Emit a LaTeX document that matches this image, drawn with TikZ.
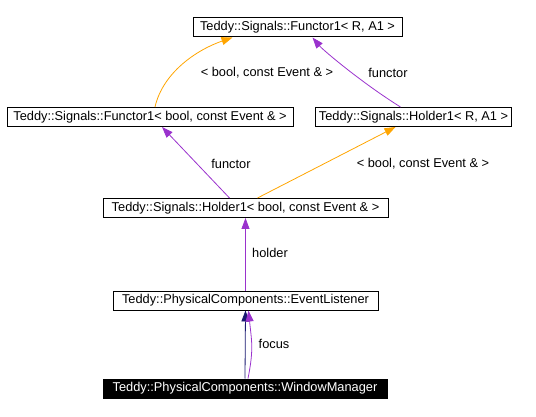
\documentclass[tikz,border=0pt]{standalone}
\usepackage{fontspec}
\setmainfont{Liberation Sans}
\usetikzlibrary{arrows.meta}
\definecolor{usecol}{RGB}{154,50,205}
\definecolor{tplcol}{RGB}{255,165,0}
\definecolor{inhcol}{RGB}{25,25,112}

\begin{document}
\begin{tikzpicture}[x=1pt,y=-1pt,
		cls/.style={rectangle, draw, line width=1pt, inner xsep=3pt, inner ysep=0pt, minimum height=19pt, font=\fontsize{12.8}{14}\selectfont},
		cur/.style={cls, fill=black, text=white},
		uses/.style={draw=usecol, line width=0.8pt, -{Triangle[length=11pt,width=8pt]}},
		tpl/.style={draw=tplcol, line width=0.8pt, -{Triangle[length=11pt,width=8pt]}},
		inh/.style={draw=inhcol, line width=0.8pt, -{Triangle[length=11pt,width=8pt]}},
		elab/.style={font=\fontsize{12.8}{14}\selectfont, inner sep=1pt}
	]
	\useasboundingbox (0,0) rectangle (536,417);

	\node[cls,minimum width=209pt] at (297.5,27.5) (fr) {Teddy::Signals::Functor1< R, A1 >};
	\node[cls,minimum width=286pt] at (150,117) (fb) {Teddy::Signals::Functor1< bool, const Event \& >};
	\node[cls,minimum width=195pt] at (413.5,117) (hr) {Teddy::Signals::Holder1< R, A1 >};
	\node[cls,minimum width=285pt] at (245.5,208) (hb) {Teddy::Signals::Holder1< bool, const Event \& >};
	\node[cls,minimum width=265pt] at (245.5,300.5) (el) {Teddy::PhysicalComponents::EventListener};
	\node[cur,minimum width=284pt] at (245,388.5) (wm) {Teddy::PhysicalComponents::WindowManager};

	% top row
	\draw[tpl] ([xshift=5pt]fb.north) .. controls +(8,-35) and +(-35,12) .. ([xshift=-65pt]fr.south);
	\node[elab] at (267,73) (tl1) {< bool, const Event \& >};
	\draw[uses] ([xshift=-13pt]hr.north) .. controls +(-40,-25) and +(10,12) .. ([xshift=15pt]fr.south);
	\node[elab] at (388,73) (ul1) {functor};

	% holder
	\draw[uses] ([xshift=-16pt]hb.north) -- ([xshift=12pt]fb.south);
	\node[elab] at (231,164) (ul2) {functor};
	\draw[tpl] ([xshift=12pt]hb.north) -- ([xshift=-18pt]hr.south);
	\node[elab] at (423,164) (tl2) {< bool, const Event \& >};

	\draw[uses] (el.north) -- (hb.south);
	\node[elab] at (270,253) (ul3) {holder};

	% window manager
	\draw[inh] (wm.north) -- (el.south);
	\draw[uses] ([xshift=3pt]wm.north) .. controls +(6,-30) and +(3,30) .. ([xshift=3pt]el.south);
	\node[elab] at (274,344) (ul4) {focus};
\end{tikzpicture}
\end{document}
